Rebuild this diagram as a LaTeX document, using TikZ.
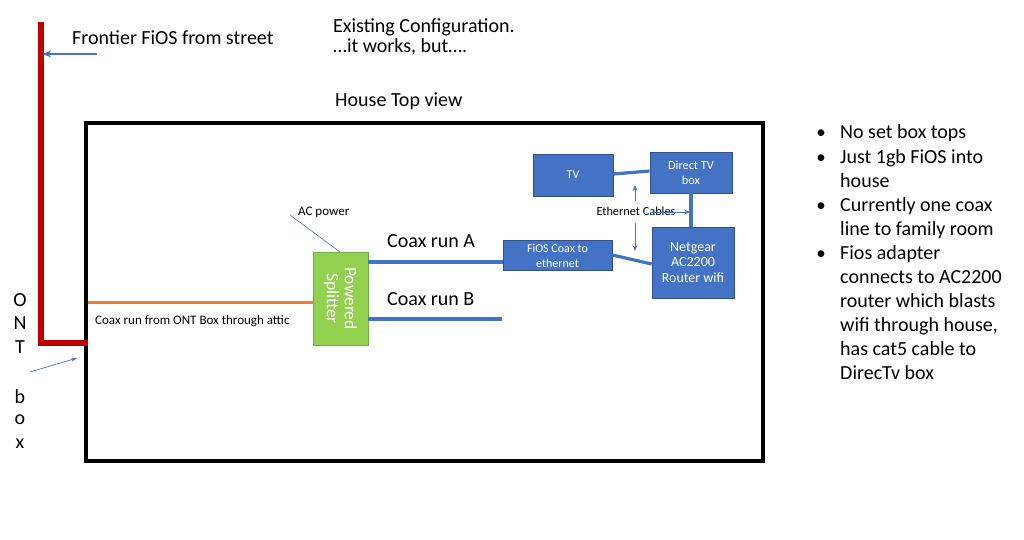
\documentclass[tikz,border=0pt]{standalone}
\usepackage{fontspec}
\setmainfont{Carlito}
\usetikzlibrary{arrows.meta}
\definecolor{fred}{HTML}{C00000}
\definecolor{oblue}{HTML}{4472C4}
\definecolor{oblueD}{HTML}{2F528F}
\definecolor{ogreen}{HTML}{92D050}
\definecolor{ogreenD}{HTML}{70AD47}
\definecolor{oorange}{HTML}{ED7D31}
\tikzset{
  devbox/.style={draw=oblueD, fill=oblue, text=white, line width=0.8pt, align=center, inner sep=0pt, font=\fontsize{12}{15}\selectfont},
  wire/.style={oblue, line width=3.2pt},
  thinarrow/.style={oblue, line width=0.9pt, -{Stealth[length=6pt,width=5pt]}},
  lbl/.style={inner sep=0pt, anchor=west},
  big/.style={font=\fontsize{20}{22}\selectfont},
  small/.style={font=\fontsize{13}{15}\selectfont},
}
\begin{document}
\begin{tikzpicture}[x=1pt,y=-1pt]
\useasboundingbox (0,0) rectangle (1024,539);
% house
\draw[line width=4.5pt] (86,123) rectangle (763,461);
% fiber from street
\coordinate (rtop) at (41,22);
\coordinate (rcorner) at (41,343);
\coordinate (rend) at (88,343);
\draw[fred, line width=5.5pt] (rtop) -- (rcorner) -- (rend);
\coordinate (fs) at (97,54);
\coordinate (fe) at (43,54);
\draw[oblue, line width=2pt, -{Stealth[length=8pt,width=7pt]}] (fs) -- (fe);
\node[lbl, big] (frontier) at (72,38) {Frontier FiOS from street};
\node[lbl, big] (title1) at (333,27) {Existing Configuration.};
\node[lbl, big] (title2) at (333,47) {…it works, but….};
\node[lbl, big] (house) at (335,101) {House Top view};
% ONT box letters
\foreach \c/\y in {O/300, N/323, T/347, b/397, o/420, x/444}{
  \node[big, inner sep=0pt] at (20,\y) {\c};
}
\coordinate (onts) at (30,372);
\coordinate (onte) at (77,358);
\draw[oblue, line width=0.7pt, -{Stealth[length=6pt,width=4pt]}] (onts) -- (onte);
% splitter
\node[draw=ogreenD, fill=ogreen, line width=0.8pt, minimum width=55pt, minimum height=93pt, inner sep=0pt] (split) at (340.5,298.5) {};
\node[rotate=-90, text=white, align=center, font=\fontsize{17.5}{18}\selectfont] at (split.center) {Powered\\Splitter};
\coordinate (ontin) at (88,302);
\draw[oorange, line width=3pt] (ontin) -- (split.west |- ontin);
\node[lbl, small] (attic) at (95,321) {Coax run from ONT Box through attic};
% AC power
\coordinate (acp) at (290,215);
\draw[oblue, line width=0.6pt] (acp) -- (340,252);
\node[lbl, small] (aclbl) at (298,212) {AC power};
% devices
\node[devbox, minimum width=109pt, minimum height=30pt] (fios) at (557.5,255.5) {FiOS Coax to\\ethernet};
\node[devbox, minimum width=80pt, minimum height=42pt] (tv) at (573,175) {TV};
\node[devbox, minimum width=82pt, minimum height=41pt, font=\fontsize{12.3}{15}\selectfont] (dtv) at (691,172.5) {Direct TV\\box};
\node[devbox, minimum width=82pt, minimum height=71pt, font=\fontsize{14}{15.5}\selectfont] (ng) at (693,262.5) {Netgear\\AC2200\\Router wifi};
% coax runs
\draw[wire] (split.east |- 0,262) -- (fios.west |- 0,262);
\coordinate (bend) at (502,319);
\draw[wire] (split.east |- bend) -- (bend);
\node[lbl, big] (ca) at (387,241) {Coax run A};
\node[lbl, big] (cb) at (387,299) {Coax run B};
% ethernet
\draw[wire] (tv.east |- 0,174) -- (dtv.west |- 0,171);
\draw[wire] (dtv.south) -- (dtv.south |- ng.north);
\draw[wire] (fios.east |- 0,255) -- (ng.west |- 0,264);
\node[font=\fontsize{12.3}{14}\selectfont, inner sep=0pt] (eth) at (636,211) {Ethernet Cables};
\coordinate (u1) at (635,201);
\coordinate (u2) at (635,185);
\coordinate (d1) at (635,223);
\coordinate (d2) at (635,251);
\coordinate (r1) at (650,212);
\coordinate (r2) at (690,212);
\draw[thinarrow] (u1) -- (u2);
\draw[thinarrow] (d1) -- (d2);
\draw[thinarrow] (r1) -- (r2);
% bullets
\tikzset{bul/.style={inner sep=0pt, anchor=base west, font=\fontsize{20}{24.1}\selectfont, align=left}}
\foreach \y in {138, 163, 211, 259}{
  \node[inner sep=0pt, anchor=base, font=\fontsize{19}{24}\selectfont] at (821,\y) {•};
}
\node[bul] (b1) at (840,138) {No set box tops};
\node[bul] (b2) at (840,163) {Just 1gb FiOS into};
\node[bul] (b2b) at (840,187) {house};
\node[bul] (b3) at (840,211) {Currently one coax};
\node[bul] (b3b) at (840,235) {line to family room};
\node[bul] (b4) at (840,259) {Fios adapter};
\node[bul] (b4b) at (840,283) {connects to AC2200};
\node[bul] (b4c) at (840,307) {router which blasts};
\node[bul] (b4d) at (840,331) {wifi through house,};
\node[bul] (b4e) at (840,355) {has cat5 cable to};
\node[bul] (b4f) at (840,379) {DirecTv box};
\end{tikzpicture}
\end{document}
